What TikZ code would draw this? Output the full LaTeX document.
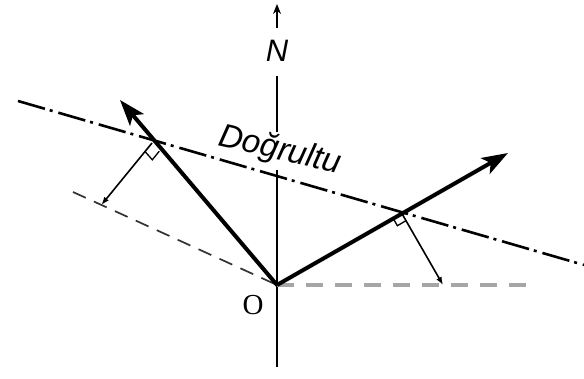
\documentclass[tikz,border=0pt]{standalone}
\usepackage{fontspec}
\setmainfont{Liberation Serif}
\newfontfamily\labsans{Liberation Sans}
\usetikzlibrary{arrows.meta,calc}
\tikzset{
  vec/.style={line width=4pt,-{Stealth[length=26pt,width=18pt,inset=6pt]}},
  axis/.style={line width=1.8pt},
  strike/.style={line width=2.6pt,dash pattern=on 28pt off 5pt on 3pt off 6pt},
  projdash/.style={line width=1.7pt,black!80,dash pattern=on 14pt off 9pt},
  horizdash/.style={line width=4pt,black!35,dash pattern=on 17pt off 12pt},
  perp/.style={line width=1.6pt,-{Latex[length=8pt,width=6pt]}},
  rmark/.style={line width=1.3pt},
  lab/.style={inner sep=0pt,font=\labsans\itshape\fontsize{31}{33}\selectfont},
}
\begin{document}
\begin{tikzpicture}[x=1pt,y=-1pt]
\useasboundingbox (0,0) rectangle (584,379);
% key points
\coordinate (O) at (277,285);
\coordinate (Ltip) at (120,100);
\coordinate (Rtip) at (508,153);
\coordinate (DDs) at (18,101);
\coordinate (DDe) at (584,265);
\coordinate (C1) at (152,143);
\coordinate (C2) at (401,212);
\coordinate (L1e) at (101.4,204.9);
\coordinate (R1e) at (443,285);
\coordinate (Lds) at (73,192);
\coordinate (Rde) at (527,285);
\coordinate (Vtop) at (277,4);
\coordinate (Va) at (277,28);
\coordinate (Vb) at (277,76);
\coordinate (Vc) at (277,132);
\coordinate (Vd) at (277,170);
\coordinate (Ve) at (277,367);
% north axis
\draw[line width=1.8pt,-{Stealth[length=10pt,width=8pt]}] (Va) -- (Vtop);
\node[lab] (N) at (277,51) {N};
\draw[axis] (Vb) -- (Vc);
\draw[axis] (Vd) -- (Ve);
% strike line
\draw[strike] (DDs) -- (DDe);
\node[lab,rotate=-13,font=\labsans\itshape\fontsize{33}{35}\selectfont] (D) at (280,151) {Doğrultu};
% dashed lines
\draw[projdash] (Lds) -- (O);
\draw[horizdash] (O) -- (Rde);
% vectors
\draw[vec] (O) -- (Ltip);
\draw[vec] (O) -- (Rtip);
% perpendiculars
\draw[perp] (C1) -- (L1e);
\draw[perp] (C2) -- (R1e);
% right-angle marks
\coordinate (m1a) at ($(C1)!11pt!(O)$);
\coordinate (m1b) at ($(C1)!11pt!(L1e)$);
\draw[rmark] (m1a) -- ($(m1a)+(m1b)-(C1)$) -- (m1b);
\coordinate (m2a) at ($(C2)!10pt!(O)$);
\coordinate (m2b) at ($(C2)!10pt!(R1e)$);
\draw[rmark] (m2a) -- ($(m2a)+(m2b)-(C2)$) -- (m2b);
% origin label
\node[inner sep=0pt,font=\fontsize{29}{31}\selectfont] (Olab) at (253,305) {O};
\end{tikzpicture}
\end{document}
